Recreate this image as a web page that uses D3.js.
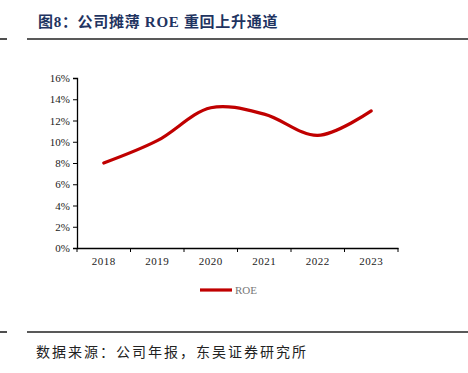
<!DOCTYPE html>
<html>
<head>
<meta charset="utf-8">
<script src="https://cdn.jsdelivr.net/npm/d3@7"></script>
<style>
  body { margin: 0; background: #fff; }
  svg { display: block; }
</style>
</head>
<body>
<div id="container"></div>
<script>
// chart data
const years = ["2018", "2019", "2020", "2021", "2022", "2023"];
const roe = [8.0, 10.1, 13.2, 12.6, 10.6, 12.9];
const y_ticks = [0, 2, 4, 6, 8, 10, 12, 14, 16];

const W = 468, H = 373;
const plot = {left: 77, right: 398, top: 78, bottom: 248};

var svg = d3.select("#container").append("svg")
    .attr("width", W)
    .attr("height", H);

// title + rules
svg.append("text")
    .attr("x", 38).attr("y", 27)
    .style("font-family", "'Liberation Serif', 'Noto Sans CJK SC'")
    .style("font-weight", "bold")
    .style("font-size", "15px")
    .style("letter-spacing", "0.7px")
    .style("fill", "#1f3461")
    .text("图8：公司摊薄 ROE 重回上升通道");

var rule = function(y){
    svg.append("line").attr("x1", 0).attr("x2", 7).attr("y1", y).attr("y2", y)
	.style("stroke", "#222").style("stroke-width", 1.6);
    svg.append("line").attr("x1", 27).attr("x2", W).attr("y1", y).attr("y2", y)
	.style("stroke", "#222").style("stroke-width", 1.6);
};
rule(39);
rule(332);

svg.append("text")
    .attr("x", 36).attr("y", 357)
    .style("font-family", "'Noto Sans CJK SC'")
    .style("font-size", "14px")
    .style("letter-spacing", "2px")
    .style("fill", "#222")
    .text("数据来源：公司年报，东吴证券研究所");

// scales
var x = d3.scaleBand().domain(years).range([plot.left, plot.right]);
var y = d3.scaleLinear().domain([0, 16]).range([plot.bottom, plot.top]);

var g = svg.append("g");

var yAxis = g.append("g")
    .attr("transform", "translate(" + plot.left + ",0)")
    .call(d3.axisLeft(y).tickValues(y_ticks).tickSize(4).tickFormat(function(d){ return d + "%"; }));

var xAxis = g.append("g")
    .attr("transform", "translate(0," + plot.bottom + ")")
    .call(d3.axisBottom(x).tickSize(0).tickPadding(9));

// band-edge ticks like the original
xAxis.selectAll("line.edge")
    .data(years.concat(["end"]))
    .enter().append("line")
    .attr("x1", function(d, i){ return plot.left + i * x.bandwidth(); })
    .attr("x2", function(d, i){ return plot.left + i * x.bandwidth(); })
    .attr("y1", 0).attr("y2", 4)
    .style("stroke", "#000");

[yAxis, xAxis].forEach(function(a){
    a.select(".domain").style("stroke", "#000").style("stroke-width", 1.3);
    a.selectAll(".tick line").style("stroke", "#000");
    a.selectAll("text")
	.style("font-family", "'Liberation Serif'")
	.style("font-size", "11px")
	.style("fill", "#222");
});
yAxis.selectAll("text").attr("x", -7);
xAxis.selectAll("text").style("letter-spacing", "0.5px");

// line
var line = d3.line()
    .x(function(d, i){ return x(years[i]) + x.bandwidth() / 2; })
    .y(function(d){ return y(d); })
    .curve(d3.curveCatmullRom.alpha(0.5));

g.append("path")
    .datum(roe)
    .attr("d", line)
    .style("fill", "none")
    .style("stroke", "#c00000")
    .style("stroke-width", 3.2)
    .style("stroke-linecap", "round");

// legend
svg.append("line")
    .attr("x1", 200).attr("x2", 232).attr("y1", 290).attr("y2", 290)
    .style("stroke", "#c00000").style("stroke-width", 3.2);
svg.append("text")
    .attr("x", 235).attr("y", 294)
    .style("font-family", "'Liberation Serif'")
    .style("font-size", "11px")
    .style("fill", "#777")
    .text("ROE");
</script>
</body>
</html>
